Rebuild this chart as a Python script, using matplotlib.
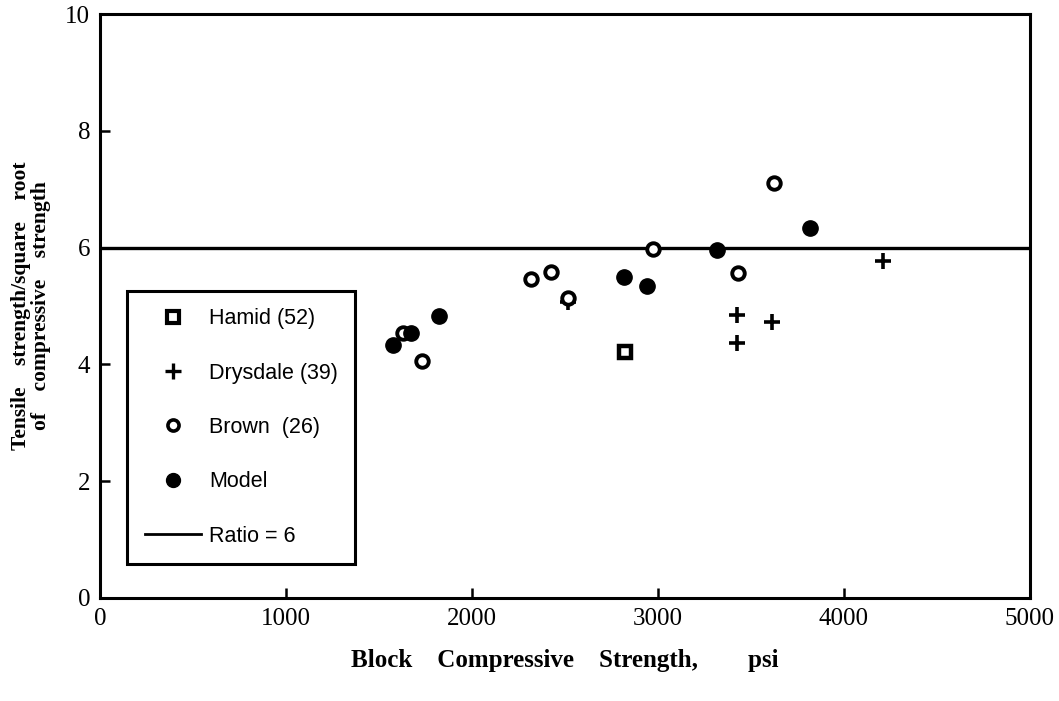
import matplotlib.pyplot as plt
from matplotlib.lines import Line2D

# values
hamid_x = [2823]
hamid_y = [4.21]

drysdale_x = [2516, 3425, 3613, 3425, 4210]
drysdale_y = [5.07, 4.85, 4.73, 4.37, 5.77]

brown_x = [1629, 1731, 2317, 2425, 2516, 2973, 3430, 3624]
brown_y = [4.54, 4.06, 5.46, 5.58, 5.14, 5.98, 5.57, 7.11]

model_x = [1575, 1672, 1823, 2817, 2941, 3317, 3817]
model_y = [4.33, 4.54, 4.83, 5.50, 5.34, 5.96, 6.34]

ratio = 6
x_ticks = [0, 1000, 2000, 3000, 4000, 5000]
y_ticks = [0, 2, 4, 6, 8, 10]

fig = plt.figure(figsize=(10.59, 7.01), dpi=100)
ax = fig.add_axes([0.0944, 0.147, 0.878, 0.833])

ax.axhline(ratio, color='black', lw=2.4, zorder=2)
ax.plot(hamid_x, hamid_y, ls='none', marker='s', ms=9, mfc='white',
        mec='black', mew=3.2, zorder=3)
ax.plot(drysdale_x, drysdale_y, ls='none', marker='+', ms=12,
        color='black', mew=2.6, zorder=3)
ax.plot(brown_x, brown_y, ls='none', marker='o', ms=9, mfc='white',
        mec='black', mew=2.8, zorder=3)
ax.plot(model_x, model_y, ls='none', marker='o', ms=11, color='black',
        zorder=4)

ax.set_xlim(0, 5000)
ax.set_ylim(0, 10)
ax.set_xticks(x_ticks)
ax.set_yticks(y_ticks)
ax.tick_params(direction='in', length=7, width=1.8,
               labelsize=18, pad=7)
for lab in ax.get_xticklabels() + ax.get_yticklabels():
    lab.set_family('Liberation Serif')
for sp in ax.spines.values():
    sp.set_linewidth(2.2)

ax.set_xlabel('Block    Compressive    Strength,        psi',
              family='Liberation Serif', fontweight='bold', fontsize=18,
              labelpad=14)
ax.set_ylabel('Tensile    strength/square    root\nof    compressive    strength',
              family='Liberation Serif', fontweight='bold', fontsize=15.5,
              labelpad=10, linespacing=1.05)

handles = [
    Line2D([], [], ls='none', marker='s', ms=8, mfc='white', mec='black', mew=3),
    Line2D([], [], ls='none', marker='+', ms=11, color='black', mew=2.4),
    Line2D([], [], ls='none', marker='o', ms=8, mfc='white', mec='black', mew=2.6),
    Line2D([], [], ls='none', marker='o', ms=10, color='black'),
    Line2D([], [], color='black', lw=2),
]
labels = ['Hamid (52)', 'Drysdale (39)', 'Brown  (26)', 'Model', 'Ratio = 6']
leg = ax.legend(handles, labels, loc='lower left',
                bbox_to_anchor=(0.018, 0.04), frameon=True, fancybox=False,
                edgecolor='black', framealpha=1, labelspacing=1.55,
                handlelength=2.6, borderpad=0.8, handletextpad=0.4,
                prop={'family': 'Liberation Sans', 'size': 15.5})
leg.get_frame().set_linewidth(2.2)

fig.savefig('out.png', dpi=100)
